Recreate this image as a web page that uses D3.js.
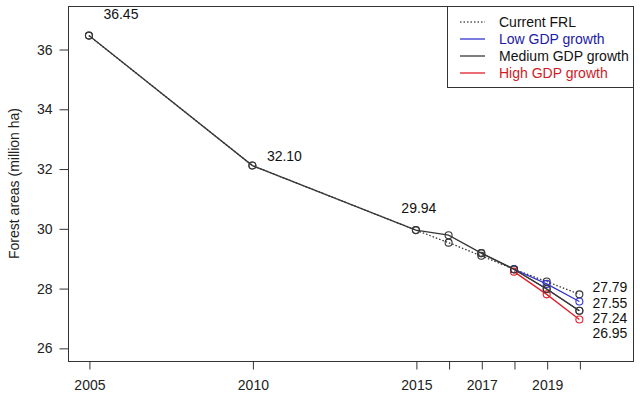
<!DOCTYPE html>
<html><head><meta charset="utf-8">
<script src="https://cdn.jsdelivr.net/npm/d3@7"></script>
<style>body{margin:0;background:#fff}svg{display:block}text{font-family:"Liberation Sans",Arial,sans-serif}</style>
</head><body><svg id="c" width="640" height="398"></svg>
<script>
const years = [2005, 2010, 2015, 2016, 2017, 2018, 2019, 2020];
const frl    = [36.45, 32.10, 29.94, 29.52, 29.08, 28.63, 28.22, 27.79];
const medium = [36.45, 32.10, 29.94, 29.77, 29.17, 28.63, 27.97, 27.24];
const scenYears = [2018, 2019, 2020];
const low  = [28.63, 28.14, 27.55];
const high = [28.55, 27.79, 26.95];
const xTicks = [2005, 2010, 2015, 2016, 2017, 2018, 2019, 2020];
const xTickLabels = ["2005", "2010", "2015", "", "2017", "", "2019", ""];
const yTicks = [26, 28, 30, 32, 34, 36];
const legendLabels = ["Current FRL", "Low GDP growth", "Medium GDP growth", "High GDP growth"];
const histLabels = ["36.45", "32.10", "29.94"];
const endLabels = ["27.79", "27.55", "27.24", "26.95"];

const BLUE = "#3434d0", RED = "#e0202c", DARK = "#383838";
const svg = d3.select("#c");
const L = 68, R = 633, T = 6, B = 361;
const x = d3.scaleLinear().domain([2004.36, 2021.64]).range([L, R]);
const y = d3.scaleLinear().domain([25.56, 37.44]).range([B, T]);
const font = 14;

svg.append("rect").attr("x", L + .5).attr("y", T + .5).attr("width", R - L).attr("height", B - T)
  .attr("fill", "none").attr("stroke", "#333").attr("stroke-width", 1);

const xa = svg.append("g").attr("transform", `translate(0.5,${B + .5})`)
  .call(d3.axisBottom(x).tickValues(xTicks).tickSize(8).tickPadding(11)
    .tickFormat((d, i) => xTickLabels[i]));
const ya = svg.append("g").attr("transform", `translate(${L + .5},0.5)`)
  .call(d3.axisLeft(y).tickValues(yTicks).tickSize(9).tickPadding(7).tickFormat(d3.format("d")));
[xa, ya].forEach(g => {
  g.select(".domain").remove();
  g.selectAll("line").attr("stroke", "#333");
  g.selectAll("text").attr("font-size", 14).attr("fill", "#222")
    .style("font-family", '"Liberation Sans",Arial,sans-serif');
});

svg.append("text").attr("transform", `translate(19,${(T + B) / 2}) rotate(-90)`)
  .attr("text-anchor", "middle").attr("font-size", 14).attr("fill", "#222")
  .text("Forest areas (million ha)");

const line = d3.line().x(d => x(d[0])).y(d => y(d[1]));
function series(xs, vs, color, dash) {
  const pts = xs.map((v, i) => [v, vs[i]]);
  svg.append("path").datum(pts).attr("d", line).attr("fill", "none")
    .attr("stroke", color).attr("stroke-width", 1.3)
    .attr("stroke-dasharray", dash || null);
  svg.append("g").selectAll("circle").data(pts).join("circle")
    .attr("cx", d => x(d[0])).attr("cy", d => y(d[1])).attr("r", 3.5)
    .attr("fill", "none").attr("stroke", color).attr("stroke-width", 1.1);
}
series(years, frl, "#333", "1.5,2");
series(years, medium, DARK);
series(scenYears, low, BLUE);
series(scenYears, high, RED);
series(years.slice(4), medium.slice(4), DARK);

const histOff = [[32, -22], [32, -10], [3, -22]];
histLabels.forEach((t, i) => {
  svg.append("text").attr("x", x(years[i]) + histOff[i][0]).attr("y", y(medium[i]) + histOff[i][1] + 5)
    .attr("text-anchor", "middle").attr("font-size", font).attr("fill", "#111").text(t);
});
endLabels.forEach((t, i) => {
  svg.append("text").attr("x", x(2020) + 13).attr("y", y(27.79) - 2 + i * 15.3)
    .attr("font-size", font).attr("fill", "#111").text(t);
});

const lg = svg.append("g");
lg.append("rect").attr("x", 447.5).attr("y", T + .5).attr("width", R - 447).attr("height", 81)
  .attr("fill", "#fff").attr("stroke", "#333");
const legColors = ["#555", BLUE, DARK, RED];
const legText = ["#111", "#1a1aa8", "#111", "#d01a26"];
legendLabels.forEach((t, i) => {
  const yy = 22 + i * 17;
  lg.append("line").attr("x1", 460).attr("x2", 485).attr("y1", yy).attr("y2", yy)
    .attr("stroke", legColors[i]).attr("stroke-width", 1.3)
    .attr("stroke-dasharray", i === 0 ? "1.5,2" : null);
  lg.append("text").attr("x", 499).attr("y", yy + 5).attr("font-size", font)
    .attr("fill", legText[i]).text(t);
});
</script></body></html>
